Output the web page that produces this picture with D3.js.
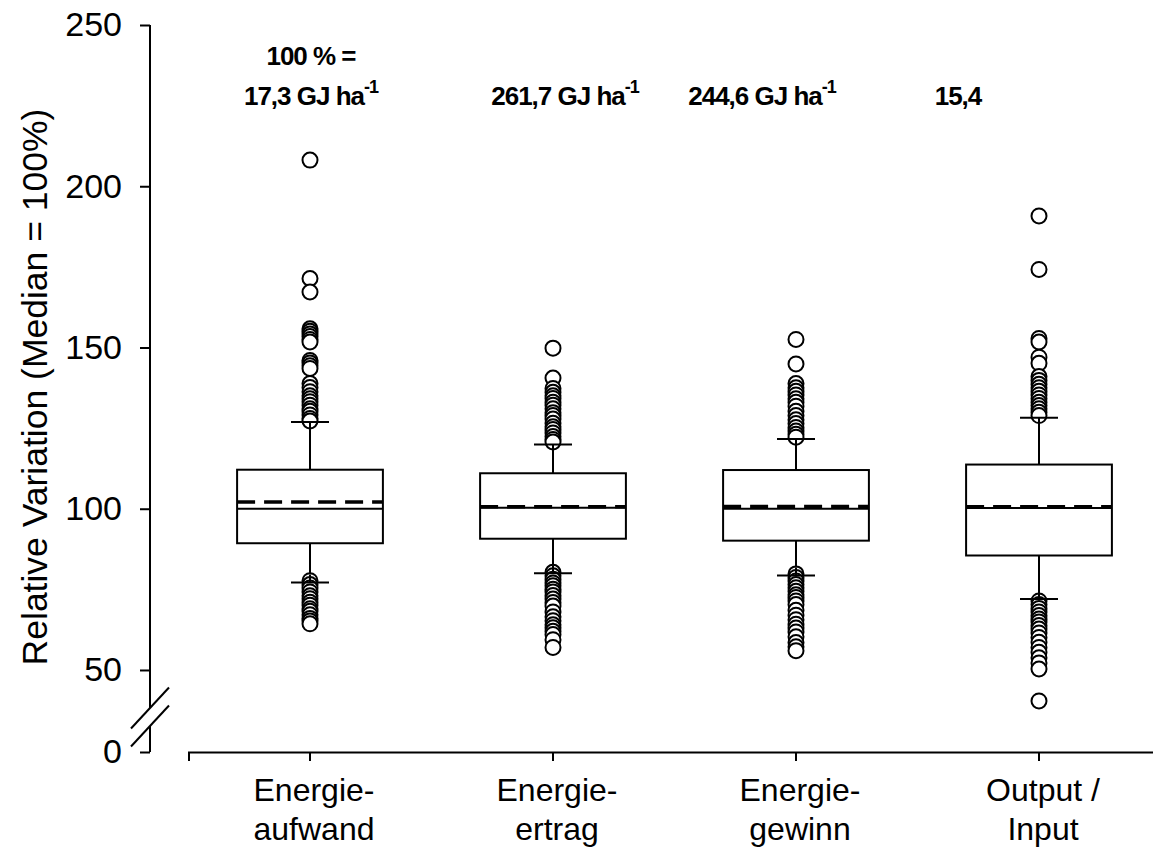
<!DOCTYPE html>
<html>
<head>
<meta charset="utf-8">
<script src="https://cdn.jsdelivr.net/npm/d3@7"></script>
<style>
  body { margin: 0; background: #fff; }
  svg { display: block; font-family: Arial, "Liberation Sans", sans-serif; }
</style>
</head>
<body>
<svg></svg>
<script>
let width = 1153
let height = 852

// categories, two lines each
let categories = ["Energieaufwand", "Energieertrag", "Energiegewinn", "Output / Input"]
let catLine1 = ["Energie-", "Energie-", "Energie-", "Output /"]
let catLine2 = ["aufwand", "ertrag", "gewinn", "Input"]

// box statistics (relative, median = 100%)
let q1 = [89.3, 90.7, 90.1, 85.5]
let medians = [100, 100.3, 100, 100.2]
let q3 = [112.1, 111.0, 112.0, 113.7]
let whiskLow = [77.1, 80.0, 79.3, 72.0]
let whiskHigh = [126.9, 119.9, 121.6, 128.2]
let means = [102.1, 100.6, 100.7, 100.6]

// outliers
let outliers = [
  [208.1, 171.4, 167.2, 155.8, 155.0, 154.2, 153.4, 152.5, 151.7, 146.0, 145.2, 144.3, 143.5,
   138.8, 137.6, 136.3, 135.0, 134.1, 133.2, 132.1, 131.0, 130.2, 129.1, 128.0, 127.2,
   77.7, 76.5, 75.4, 74.2, 73.0, 72.1, 71.0, 70.1, 69.0, 68.2, 67.1, 66.0, 65.2, 64.3],
  [149.8, 140.5, 137.3, 136.1, 135.0, 134.2, 133.0, 132.1, 131.0, 129.8, 128.9, 127.8, 126.5,
   125.4, 124.6, 123.5, 122.4, 121.5, 120.7,
   80.3, 79.2, 78.1, 77.0, 76.1, 75.0, 74.2, 73.1, 72.0, 70.9, 69.8, 68.0, 66.5, 65.3, 64.0,
   63.1, 62.0, 61.0, 59.4, 57.0],
  [152.5, 144.9, 138.8, 137.5, 136.4, 135.3, 134.1, 133.0, 131.8, 130.2, 128.9, 127.6, 126.4,
   125.2, 124.1, 123.1, 122.2,
   79.8, 78.7, 77.6, 76.5, 75.5, 74.4, 73.3, 72.5, 71.4, 70.3, 68.5, 67.0, 65.6, 64.2, 63.0,
   61.8, 60.3, 58.5, 57.2, 56.0],
  [190.8, 174.2, 152.8, 151.7, 147.0, 145.1, 141.0, 139.8, 138.6, 137.5, 136.4, 135.3, 134.2,
   133.0, 132.0, 131.0, 129.9, 128.9,
   71.4, 70.3, 69.1, 68.0, 66.9, 65.8, 64.9, 63.8, 62.7, 61.5, 60.1, 58.6, 57.0, 55.5, 53.8,
   52.2, 50.3, 40.4]
]

// labels above boxes
let topLine1 = ["100 % =", "", "", ""]
let topMain = ["17,3 GJ ha", "261,7 GJ ha", "244,6 GJ ha", "15,4"]
let topSup = ["-1", "-1", "-1", ""]
let topShift = [1, 12, -34, -81]

let yTicks = [0, 50, 100, 150, 200, 250]

let svg = d3.select('svg').attr('width', width).attr('height', height)

// broken axis: linear from ~37 up, the rest down to 0 squeezed under the break
let y = d3.scaleLinear().domain([0, 37, 250]).range([752, 711.9, 25])
let x = d3.scaleBand().domain(categories).range([188.5, 1160.5]).padding(0)
let boxW = x.bandwidth() * 0.6
let capW = 38

// y axis
let yAxis = d3.axisLeft(y).tickValues(yTicks).tickSize(10).tickPadding(18)
let gy = svg.append('g').attr('transform', 'translate(150,0)').call(yAxis)
gy.select('.domain').remove()
gy.selectAll('.tick line').attr('stroke', '#000').attr('stroke-width', 2)
gy.selectAll('.tick text').attr('font-size', 34).attr('fill', '#000')

let breakTop = 38.2, breakBottom = 24
svg.append('line').attr('x1', 150).attr('x2', 150).attr('y1', y(250)).attr('y2', y(breakTop))
  .attr('stroke', '#000').attr('stroke-width', 2)
svg.append('line').attr('x1', 150).attr('x2', 150).attr('y1', y(breakBottom)).attr('y2', y(0))
  .attr('stroke', '#000').attr('stroke-width', 2)
;[breakTop, breakBottom].forEach(v => {
  svg.append('line')
    .attr('x1', 131).attr('y1', y(v) + 20.5)
    .attr('x2', 169).attr('y2', y(v) - 20.5)
    .attr('stroke', '#000').attr('stroke-width', 2)
})

// x axis
let xAxis = d3.axisBottom(x).tickSize(9).tickFormat('')
let gx = svg.append('g').attr('transform', 'translate(0,' + y(0) + ')').call(xAxis)
gx.select('.domain').attr('stroke', '#000').attr('stroke-width', 2)
gx.selectAll('.tick line').attr('stroke', '#000').attr('stroke-width', 2)

categories.forEach((c, i) => {
  let cx = x(c) + x.bandwidth() / 2
  svg.append('text').attr('x', cx + 4).attr('y', 801).attr('text-anchor', 'middle')
    .attr('font-size', 32).text(catLine1[i])
  svg.append('text').attr('x', cx + 4).attr('y', 840).attr('text-anchor', 'middle')
    .attr('font-size', 32).text(catLine2[i])
})

// y title
svg.append('text')
  .attr('transform', 'translate(47,' + 387 + ') rotate(-90)')
  .attr('text-anchor', 'middle').attr('font-size', 35.5)
  .text('Relative Variation (Median = 100%)')

// boxes
let g = svg.append('g')
categories.forEach((c, i) => {
  let cx = x(c) + x.bandwidth() / 2

  // whiskers
  g.append('line').attr('x1', cx).attr('x2', cx).attr('y1', y(q3[i])).attr('y2', y(whiskHigh[i]))
    .attr('stroke', '#000').attr('stroke-width', 2)
  g.append('line').attr('x1', cx).attr('x2', cx).attr('y1', y(q1[i])).attr('y2', y(whiskLow[i]))
    .attr('stroke', '#000').attr('stroke-width', 2)

  // outliers
  g.selectAll(null).data(outliers[i]).enter().append('circle')
    .attr('cx', cx).attr('cy', d => y(d)).attr('r', 7.5)
    .attr('fill', '#fff').attr('stroke', '#000').attr('stroke-width', 2)

  // caps
  ;[whiskHigh[i], whiskLow[i]].forEach(v => {
    g.append('line').attr('x1', cx - capW / 2).attr('x2', cx + capW / 2)
      .attr('y1', y(v)).attr('y2', y(v)).attr('stroke', '#000').attr('stroke-width', 2)
  })
  g.append('line').attr('x1', cx).attr('x2', cx).attr('y1', y(whiskHigh[i])).attr('y2', y(whiskHigh[i]) + 8)
    .attr('stroke', '#000').attr('stroke-width', 2)
  g.append('line').attr('x1', cx).attr('x2', cx).attr('y1', y(whiskLow[i])).attr('y2', y(whiskLow[i]) - 8)
    .attr('stroke', '#000').attr('stroke-width', 2)

  // box
  g.append('rect').attr('x', cx - boxW / 2).attr('width', boxW)
    .attr('y', y(q3[i])).attr('height', y(q1[i]) - y(q3[i]))
    .attr('fill', '#fff').attr('stroke', '#000').attr('stroke-width', 2)
  g.append('line').attr('x1', cx - boxW / 2).attr('x2', cx + boxW / 2)
    .attr('y1', y(medians[i])).attr('y2', y(medians[i]))
    .attr('stroke', '#000').attr('stroke-width', 2)
  g.append('line').attr('x1', cx - boxW / 2).attr('x2', cx + boxW / 2)
    .attr('y1', y(means[i])).attr('y2', y(means[i]))
    .attr('stroke', '#000').attr('stroke-width', 3.5).attr('stroke-dasharray', '18,9')

  // label on top
  let tx = cx + topShift[i]
  if (topLine1[i]) {
    svg.append('text').attr('x', tx).attr('y', 65).attr('text-anchor', 'middle')
      .attr('font-size', 26).attr('font-weight', 'bold').attr('letter-spacing', -1)
      .text(topLine1[i])
  }
  let t = svg.append('text').attr('x', tx).attr('y', 105).attr('text-anchor', 'middle')
    .attr('font-size', 26).attr('font-weight', 'bold').attr('letter-spacing', -1)
  t.append('tspan').text(topMain[i])
  if (topSup[i]) {
    t.append('tspan').attr('font-size', 18).attr('dy', -12).text(topSup[i])
  }
})
</script>
</body>
</html>
